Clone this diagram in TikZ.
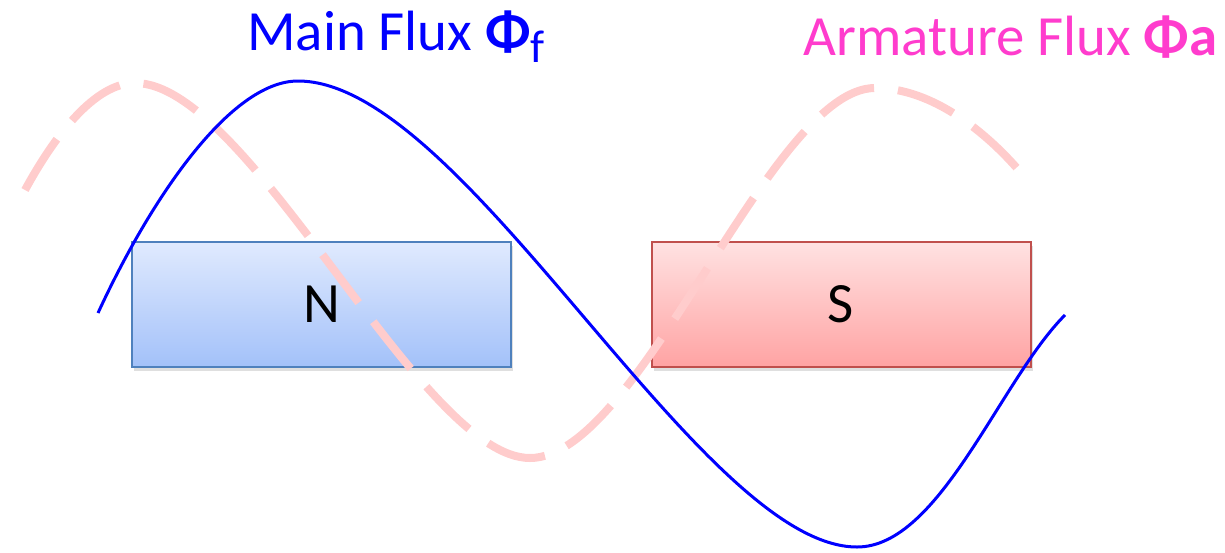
\documentclass[tikz,border=0pt]{standalone}
\usepackage{fontspec}
\setmainfont{Carlito}
\usetikzlibrary{shadows}
\definecolor{nborder}{HTML}{4F81BD}
\definecolor{ntop}{HTML}{E0EAFE}
\definecolor{nbot}{HTML}{A3C1F9}
\definecolor{sborder}{HTML}{C0504D}
\definecolor{stop}{HTML}{FFE2E2}
\definecolor{sbot}{HTML}{FFA3A3}
\definecolor{armpink}{RGB}{255,60,205}
\definecolor{dashpink}{RGB}{255,204,204}
\definecolor{fluxblue}{RGB}{0,0,255}
\tikzset{
  magnet/.style={draw, line width=1pt, minimum width=189.5pt, minimum height=62.5pt,
    inner sep=0pt, font=\fontsize{28.5}{34}\selectfont,
    drop shadow={shadow xshift=1pt, shadow yshift=-2pt, opacity=0.25}},
  lbl/.style={anchor=base west, inner sep=0pt, font=\fontsize{28.4}{34}\selectfont},
  mainflux/.style={draw=fluxblue, line width=1.5pt},
  armflux/.style={draw=dashpink, line width=4pt, dash pattern=on 30pt off 12pt}
}
\begin{document}
\begin{tikzpicture}[x=0.5pt, y=-0.5pt]
\useasboundingbox (0,0) rectangle (1225,552);
\node[magnet, draw=nborder, top color=ntop, bottom color=nbot] (nbox) at (321.5,304.5) {N};
\node[magnet, draw=sborder, top color=stop, bottom color=sbot] (sbox) at (841,304.5) {S};
\node[lbl, text=fluxblue] (mainlbl) at (247,50) {Main Flux \textbf{Φ}\raisebox{-0.22em}{\fontsize{23}{27}\selectfont f}};
\node[lbl, text=armpink] (armlbl) at (803,55) {Armature Flux \textbf{Φa}};
\draw[armflux] (25,190) .. controls (55,135) and (95,83) .. (135,83)
  .. controls (250,83) and (420,458) .. (530,458)
  .. controls (640,458) and (770,88) .. (875,88)
  .. controls (940,88) and (1000,145) .. (1030,184);
\draw[mainflux] (98,313) .. controls (150,200) and (230,81) .. (298,81)
  .. controls (465,81) and (700,547) .. (857,547)
  .. controls (940,547) and (1000,380) .. (1065,315);
\end{tikzpicture}
\end{document}
